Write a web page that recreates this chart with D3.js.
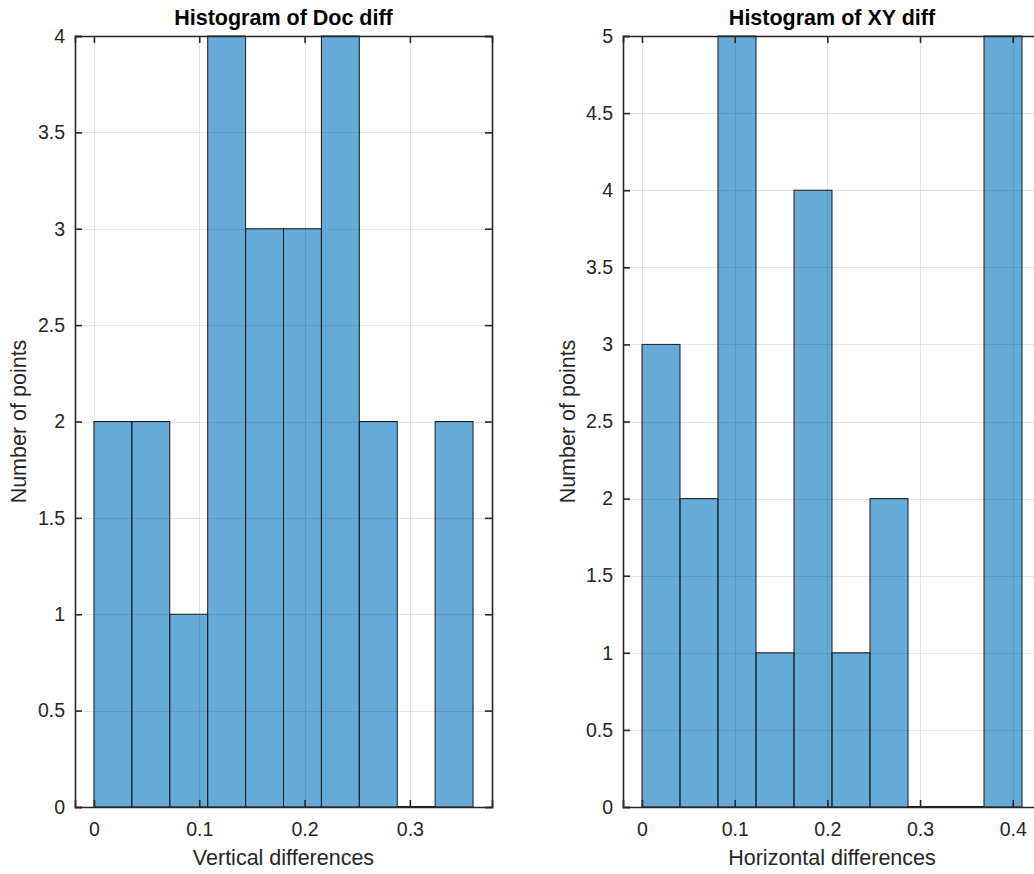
<!DOCTYPE html>
<html>
<head>
<meta charset="utf-8">
<script src="https://cdn.jsdelivr.net/npm/d3@7"></script>
<style>
  html, body { margin: 0; padding: 0; background: #fff; }
  svg { display: block; }
  text { font-family: "Liberation Sans", Arial, sans-serif; fill: #262626; }
</style>
</head>
<body>
<div id="chart"></div>
<script>
// bin edges and counts
var docEdges = [0, 0.036, 0.072, 0.108, 0.144, 0.18, 0.216, 0.252, 0.288, 0.324, 0.36];
var docCounts = [2, 2, 1, 4, 3, 3, 4, 2, 0, 2];
var docXTicks = [0, 0.1, 0.2, 0.3];
var docYTicks = [0, 0.5, 1, 1.5, 2, 2.5, 3, 3.5, 4];

var xyEdges = [0, 0.041, 0.082, 0.123, 0.164, 0.205, 0.246, 0.287, 0.328, 0.369, 0.41];
var xyCounts = [3, 2, 5, 1, 4, 1, 2, 0, 0, 5];
var xyXTicks = [0, 0.1, 0.2, 0.3, 0.4];
var xyYTicks = [0, 0.5, 1, 1.5, 2, 2.5, 3, 3.5, 4, 4.5, 5];

var titles = ['Histogram of Doc diff', 'Histogram of XY diff'];
var xLabels = ['Vertical differences', 'Horizontal differences'];
var yLabel = 'Number of points';

var W = 1034, H = 874;
var axisColor = '#262626';
var tickLen = 7;

var svg = d3.select('#chart').append('svg')
  .attr('width', W)
  .attr('height', H);

var fmt = d3.format('~g');

var drawPanel = function(p) {
  var x = d3.scaleLinear().domain(p.xDomain).range([p.left, p.right]);
  var y = d3.scaleLinear().domain(p.yDomain).range([p.bottom, p.top]);
  var g = svg.append('g');

  var bins = p.counts.map(function(c, i) {
    return {x0: p.edges[i], x1: p.edges[i + 1], n: c};
  });

  // bars (MATLAB default blue, face alpha 0.6)
  g.selectAll('rect.bar').data(bins.filter(function(d) { return d.n > 0; })).enter()
    .append('rect')
    .attr('class', 'bar')
    .attr('x', function(d) { return x(d.x0); })
    .attr('y', function(d) { return y(d.n); })
    .attr('width', function(d) { return x(d.x1) - x(d.x0); })
    .attr('height', function(d) { return y(0) - y(d.n); })
    .style('fill', '#0072bd')
    .style('fill-opacity', 0.6)
    .style('stroke', '#1a1a1a')
    .style('stroke-width', 1);

  // empty bins still show their edge along zero
  g.selectAll('line.empty').data(bins.filter(function(d) { return d.n === 0; })).enter()
    .append('line')
    .attr('class', 'empty')
    .attr('x1', function(d) { return x(d.x0); })
    .attr('x2', function(d) { return x(d.x1); })
    .attr('y1', y(0))
    .attr('y2', y(0))
    .style('stroke', '#1a1a1a')
    .style('stroke-width', 2);

  // grid sits on top of the bars
  var grid = g.append('g').style('stroke', axisColor).style('stroke-opacity', 0.12).style('stroke-width', 1);
  grid.selectAll('line.gx').data(p.xTicks).enter().append('line')
    .attr('x1', function(d) { return Math.round(x(d)) + 0.5; })
    .attr('x2', function(d) { return Math.round(x(d)) + 0.5; })
    .attr('y1', p.top).attr('y2', p.bottom);
  grid.selectAll('line.gy').data(p.yTicks).enter().append('line')
    .attr('y1', function(d) { return Math.round(y(d)) + 0.5; })
    .attr('y2', function(d) { return Math.round(y(d)) + 0.5; })
    .attr('x1', p.left).attr('x2', p.right);

  // axes on all four sides, ticks pointing in
  var xb = d3.axisBottom(x).tickValues(p.xTicks).tickSize(-tickLen).tickPadding(15).tickFormat(fmt);
  var xt = d3.axisTop(x).tickValues(p.xTicks).tickSize(-tickLen).tickFormat('');
  var yl = d3.axisLeft(y).tickValues(p.yTicks).tickSize(-tickLen).tickPadding(10).tickFormat(fmt);
  var yr = d3.axisRight(y).tickValues(p.yTicks).tickSize(-tickLen).tickFormat('');

  var axes = [
    g.append('g').attr('transform', 'translate(0,' + p.bottom + ')').call(xb),
    g.append('g').attr('transform', 'translate(0,' + p.top + ')').call(xt),
    g.append('g').attr('transform', 'translate(' + p.left + ',0)').call(yl),
    g.append('g').attr('transform', 'translate(' + p.right + ',0)').call(yr)
  ];
  axes.forEach(function(a) {
    a.selectAll('.domain').style('stroke', axisColor).style('stroke-width', 1.6);
    a.selectAll('.tick line').style('stroke', axisColor).style('stroke-width', 1.6);
    a.selectAll('.tick text')
      .style('fill', axisColor)
      .style('font-size', '19.5px')
      .style('font-family', '"Liberation Sans", Arial, sans-serif');
  });

  var cx = (p.left + p.right) / 2;
  svg.append('text')
    .attr('x', cx).attr('y', 25)
    .attr('text-anchor', 'middle')
    .style('font-weight', 'bold')
    .style('font-size', '21.5px')
    .style('fill', '#000')
    .text(p.title);

  svg.append('text')
    .attr('x', cx).attr('y', 865)
    .attr('text-anchor', 'middle')
    .style('font-size', '21.5px')
    .text(p.xLabel);

  svg.append('text')
    .attr('transform', 'translate(' + p.yLabelX + ',' + ((p.top + p.bottom) / 2) + ') rotate(-90)')
    .attr('text-anchor', 'middle')
    .style('font-size', '21.5px')
    .text(yLabel);
};

drawPanel({
  edges: docEdges, counts: docCounts, xTicks: docXTicks, yTicks: docYTicks,
  xDomain: [-0.018, 0.378], yDomain: [0, 4],
  left: 75, right: 492, top: 36, bottom: 807,
  title: titles[0], xLabel: xLabels[0], yLabelX: 26
});

drawPanel({
  edges: xyEdges, counts: xyCounts, xTicks: xyXTicks, yTicks: xyYTicks,
  xDomain: [-0.0205, 0.4305], yDomain: [0, 5],
  left: 623, right: 1041, top: 36, bottom: 807,
  title: titles[1], xLabel: xLabels[1], yLabelX: 575
});
</script>
</body>
</html>
